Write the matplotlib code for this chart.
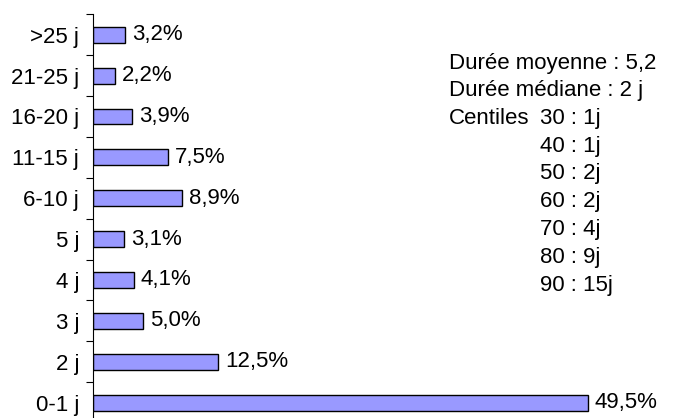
import numpy as np
import matplotlib.pyplot as plt
from matplotlib.ticker import FixedLocator

plt.rcParams['font.family'] = ['Liberation Sans', 'DejaVu Sans']

# data, bottom to top
categories = ['0-1 j', '2 j', '3 j', '4 j', '5 j', '6-10 j', '11-15 j', '16-20 j', '21-25 j', '>25 j']
values = [49.5, 12.5, 5.0, 4.1, 3.1, 8.9, 7.5, 3.9, 2.2, 3.2]
value_labels = ['49,5%', '12,5%', '5,0%', '4,1%', '3,1%', '8,9%', '7,5%', '3,9%', '2,2%', '3,2%']

stats_lines = ['Durée moyenne : 5,2', 'Durée médiane : 2 j', 'Centiles']
centile_lines = ['30 : 1j', '40 : 1j', '50 : 2j', '60 : 2j', '70 : 4j', '80 : 9j', '90 : 15j']

W, H = 673, 418
fig = plt.figure(figsize=(W / 100, H / 100), dpi=100)
ax = fig.add_axes([93 / W, (H - 423) / H, 580 / W, (423 - 14.3) / H])

y = np.arange(len(categories))
ax.barh(y, values, height=0.39, color='#9999ff', edgecolor='black', linewidth=1.0)

for yi, v, lab in zip(y, values, value_labels):
    ax.annotate(lab, (v, yi), xytext=(5, 0), textcoords='offset points',
                va='center', ha='left', fontsize=16)

ax.set_xlim(0, 58)
ax.set_ylim(-0.5, len(categories) - 0.5)
ax.set_yticks(y)
ax.set_yticklabels(categories, fontsize=16)
ax.yaxis.set_minor_locator(FixedLocator(np.arange(-0.5, len(categories), 1.0)))
ax.tick_params(axis='y', which='major', length=0, pad=10)
ax.tick_params(axis='y', which='minor', length=5, width=0.8, direction='out')
ax.xaxis.set_visible(False)
for s in ['top', 'right', 'bottom']:
    ax.spines[s].set_visible(False)
ax.spines['left'].set_linewidth(0.8)

# statistics block
x0 = 449 / W
x1 = 540 / W
step = 27.75
for i, line in enumerate(stats_lines):
    fig.text(x0, (H - 63 - i * step) / H, line, fontsize=16, va='center', ha='left')
for i, line in enumerate(centile_lines):
    fig.text(x1, (H - 63 - (i + 2) * step) / H, line, fontsize=16, va='center', ha='left')

fig.savefig('out.png', dpi=100)
